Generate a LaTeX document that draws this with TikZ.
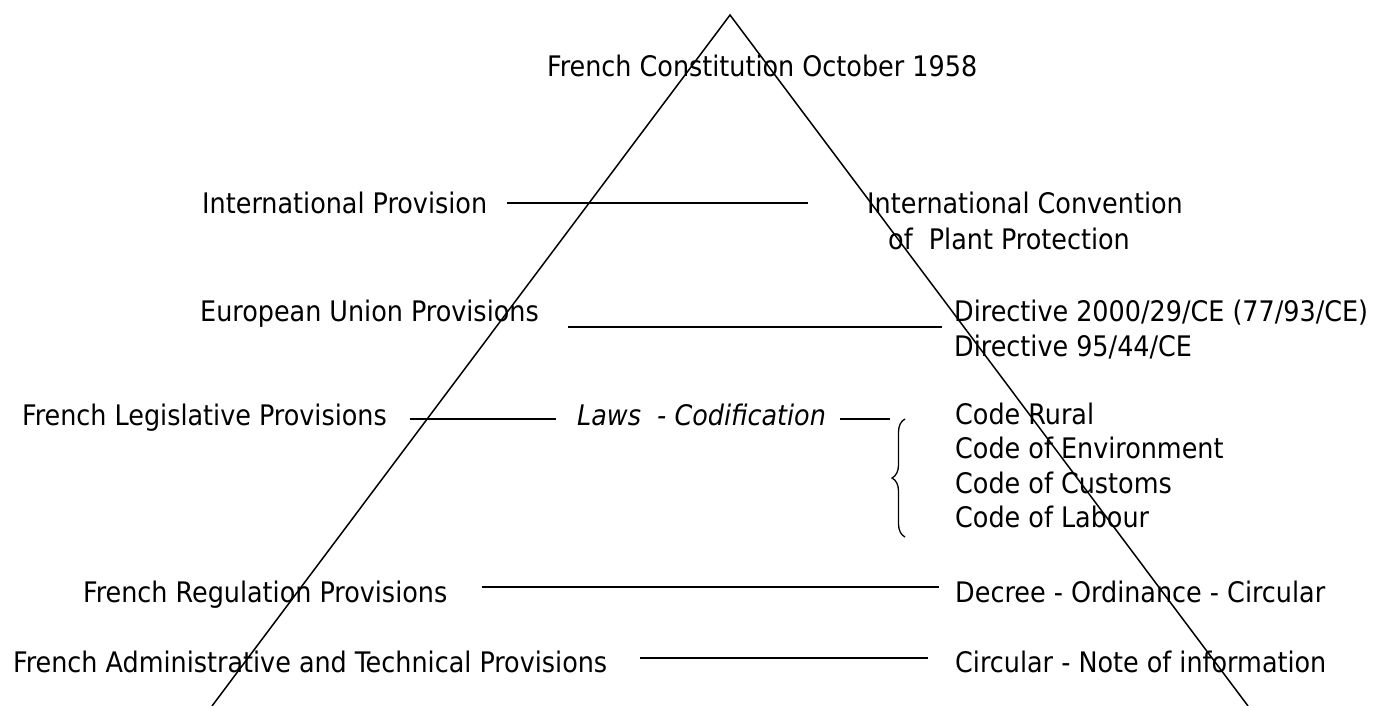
\documentclass[tikz,border=0pt]{standalone}
\usepackage{fontspec}
\setmainfont{DejaVu Sans Condensed}
\usetikzlibrary{decorations.pathreplacing}

\tikzset{
  lbl/.style={anchor=base west, inner sep=0pt, font=\fontsize{28.3}{34.5}\selectfont},
  side/.style={line width=1.5pt},
  rule/.style={line width=2pt},
  curly/.style={line width=1.3pt, decorate, decoration={brace, amplitude=13pt}}
}

\begin{document}
\begin{tikzpicture}[x=1pt,y=-1pt]
  \useasboundingbox (0,0) rectangle (1375,706);

  % pyramid
  \coordinate (top) at (730,15);
  \coordinate (bl) at (212,706);
  \coordinate (br) at (1248,706);
  \draw[side] (bl) -- (top) -- (br);

  \node[lbl] (const) at (547,77) {French Constitution October 1958};

  % international level
  \node[lbl] (intl) at (202,213) {International Provision};
  \node[lbl] (ippc1) at (867,213) {International Convention};
  \node[lbl] (ippc2) at (888,249) {of\ \ Plant Protection};
  \coordinate (intA) at (507,203);
  \coordinate (intB) at (808,203);
  \draw[rule] (intA) -- (intB);

  % european level
  \node[lbl] (eu) at (200,321) {European Union Provisions};
  \node[lbl] (dir1) at (954,321) {Directive 2000/29/CE (77/93/CE)};
  \node[lbl] (dir2) at (954,356) {Directive 95/44/CE};
  \coordinate (euA) at (568,327);
  \coordinate (euB) at (942,327);
  \draw[rule] (euA) -- (euB);

  % legislative level
  \node[lbl] (leg) at (22,425) {French Legislative Provisions};
  \node[lbl, font=\fontsize{28.3}{34.5}\selectfont\itshape] (laws) at (577,425) {Laws\ \ - Codification};
  \coordinate (legA) at (410,419);
  \coordinate (legB) at (556,419);
  \coordinate (legC) at (840,419);
  \coordinate (legD) at (890,419);
  \draw[rule] (legA) -- (legB);
  \draw[rule] (legC) -- (legD);
  \coordinate (brB) at (905,537);
  \coordinate (brT) at (905,419);
  \draw[curly] (brB) -- (brT);
  \foreach \t [count=\i] in {Code Rural, Code of Environment, Code of Customs, Code of Labour}
    \node[lbl] (code\i) at (955,{390+34.4*\i}) {\t};

  % regulation level
  \node[lbl] (reg) at (83,602) {French Regulation Provisions};
  \node[lbl] (decree) at (955,602) {Decree - Ordinance - Circular};
  \coordinate (regA) at (482,587);
  \coordinate (regB) at (939,587);
  \draw[rule] (regA) -- (regB);

  % administrative level
  \node[lbl] (adm) at (13,672) {French Administrative and Technical Provisions};
  \node[lbl] (circ) at (955,672) {Circular - Note of information};
  \coordinate (admA) at (640,658);
  \coordinate (admB) at (928,658);
  \draw[rule] (admA) -- (admB);
\end{tikzpicture}
\end{document}
